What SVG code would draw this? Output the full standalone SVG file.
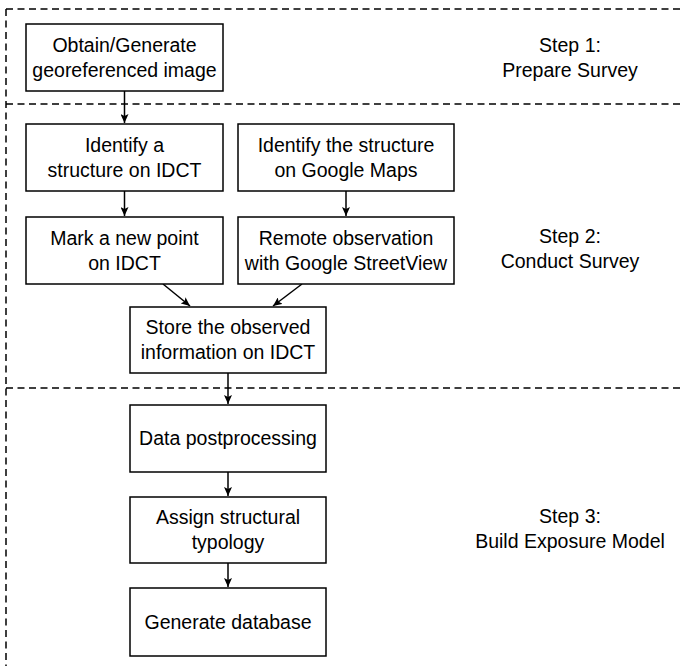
<svg xmlns="http://www.w3.org/2000/svg" width="680" height="666" viewBox="0 0 680 666">
<style>
.box{fill:#fff;stroke:#000;stroke-width:1.5}
.t{font-family:"Liberation Sans",Arial,sans-serif;font-size:19.5px;fill:#000;text-anchor:middle}
.dash{fill:none;stroke:#000;stroke-width:1.5;stroke-dasharray:7 4.5}
.c{fill:none;stroke:#000;stroke-width:1.5;marker-end:url(#ah)}
</style>
<defs>
<marker id="ah" markerWidth="10" markerHeight="8" refX="9" refY="4" orient="auto" markerUnits="userSpaceOnUse">
<path d="M0,0 L9,4 L0,8 L2,4 Z" fill="#000"/>
</marker>
</defs>
<g id="frame">
<path class="dash" d="M6,9 H680 M6,9 V666 M6,104 H680 M6,388 H680"/>
</g>
<g id="connectors">
<path class="c" d="M124.5,91 V123"/>
<path class="c" d="M124.5,191 V216"/>
<path class="c" d="M346,191 V216"/>
<path class="c" d="M163,284 L190,306"/>
<path class="c" d="M302,284 L273,306"/>
<path class="c" d="M228,373 V404"/>
<path class="c" d="M228,472 V496"/>
<path class="c" d="M228,563 V587"/>
</g>
<g id="n1"><rect class="box" x="26" y="24" width="197" height="67"/><text class="t" x="124.5" y="51.5">Obtain/Generate</text><text class="t" x="124.5" y="76.5">georeferenced image</text></g>
<g id="n2"><rect class="box" x="26" y="124" width="197" height="67"/><text class="t" x="124.5" y="151.5">Identify a</text><text class="t" x="124.5" y="176.5">structure on IDCT</text></g>
<g id="n3"><rect class="box" x="238" y="124" width="216" height="67"/><text class="t" x="346" y="151.5">Identify the structure</text><text class="t" x="346" y="176.5">on Google Maps</text></g>
<g id="n4"><rect class="box" x="26" y="217" width="197" height="67"/><text class="t" x="124.5" y="244.5">Mark a new point</text><text class="t" x="124.5" y="269.5">on IDCT</text></g>
<g id="n5"><rect class="box" x="238" y="217" width="216" height="67"/><text class="t" x="346" y="244.5">Remote observation</text><text class="t" x="346" y="269.5">with Google StreetView</text></g>
<g id="n6"><rect class="box" x="130" y="307" width="196" height="66"/><text class="t" x="228" y="334">Store the observed</text><text class="t" x="228" y="359">information on IDCT</text></g>
<g id="n7"><rect class="box" x="130" y="405" width="196" height="67"/><text class="t" x="228" y="445">Data postprocessing</text></g>
<g id="n8"><rect class="box" x="130" y="497" width="196" height="66"/><text class="t" x="228" y="524">Assign structural</text><text class="t" x="228" y="549">typology</text></g>
<g id="n9"><rect class="box" x="130" y="588" width="196" height="68"/><text class="t" x="228" y="629">Generate database</text></g>
<g id="s1"><text class="t" x="570" y="52">Step 1:</text><text class="t" x="570" y="77">Prepare Survey</text></g>
<g id="s2"><text class="t" x="570" y="243">Step 2:</text><text class="t" x="570" y="268">Conduct Survey</text></g>
<g id="s3"><text class="t" x="570" y="523">Step 3:</text><text class="t" x="570" y="548">Build Exposure Model</text></g>
</svg>
